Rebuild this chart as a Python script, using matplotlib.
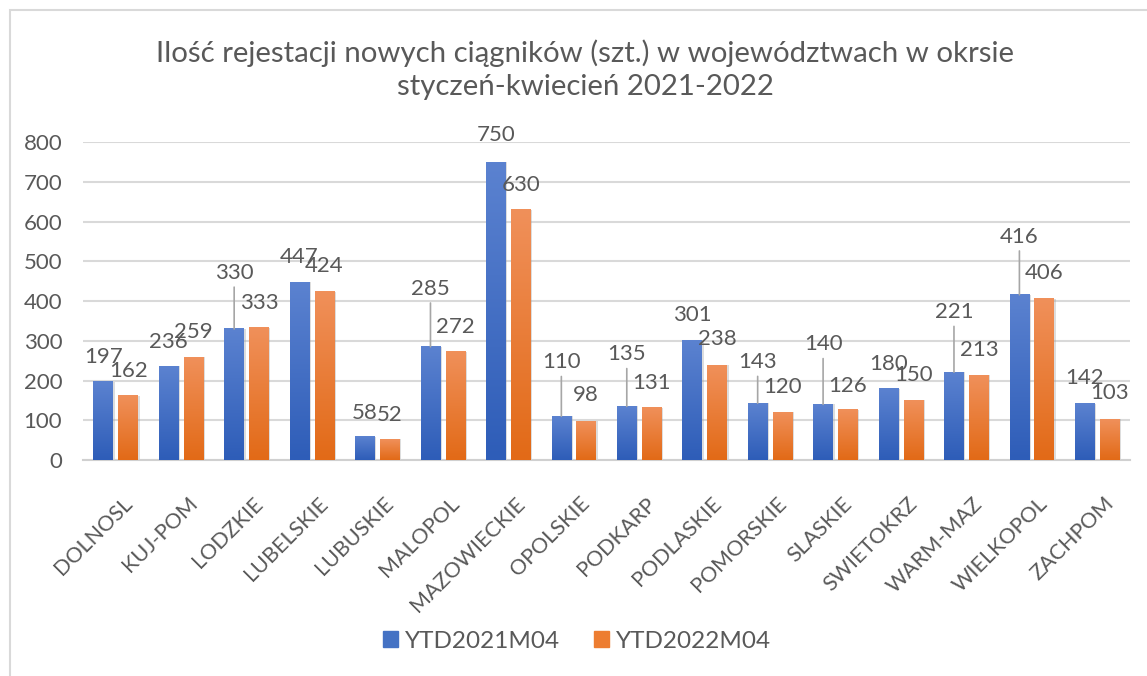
import matplotlib
matplotlib.use('Agg')
import matplotlib.pyplot as plt
import numpy as np
from matplotlib.transforms import ScaledTranslation
from matplotlib.patches import Rectangle, Patch

regions = ['DOLNOSL', 'KUJ-POM', 'LODZKIE', 'LUBELSKIE', 'LUBUSKIE', 'MALOPOL', 'MAZOWIECKIE', 'OPOLSKIE',
           'PODKARP', 'PODLASKIE', 'POMORSKIE', 'SLASKIE', 'SWIETOKRZ', 'WARM-MAZ', 'WIELKOPOL', 'ZACHPOM']
ytd2021 = [197, 236, 330, 447, 58, 285, 750, 110, 135, 301, 143, 140, 180, 221, 416, 142]
ytd2022 = [162, 259, 333, 424, 52, 272, 630, 98, 131, 238, 120, 126, 150, 213, 406, 103]
series_names = ['YTD2021M04', 'YTD2022M04']
title = 'Ilość rejestacji nowych ciągników (szt.) w województwach w okrsie\nstyczeń-kwiecień 2021-2022'

# label lift above bar top (pixels); the big ones were dragged up in excel and get leader lines
lift_2021 = [25, 24, 56, 25, 24, 58, 27, 54, 52, 25, 41, 60, 25, 60, 58, 26]
lift_2022 = [25, 25, 25, 26, 24, 25, 25, 26, 25, 26, 25, 24, 25, 25, 26, 26]

plt.rcParams['font.family'] = ['Lato', 'DejaVu Sans']
grey = '#595959'

fig = plt.figure(figsize=(11.47, 6.76), dpi=100)
ax = fig.add_axes([83 / 1147, 1 - 460 / 676, (1130 - 83) / 1147, (460 - 142.3) / 676])

# chart area border (only top/left are visible in the crop)
fig.patches.append(Rectangle((10 / 1147, -0.1), 1.2, 1 - 10 / 676 + 0.1, transform=fig.transFigure,
                             fill=False, edgecolor='#D9D9D9', linewidth=1.5))

x = np.arange(len(regions))
w = 0.30
off = 0.19
blue = ('#5B82D0', '#2E5DB8')
orange = ('#F0905A', '#E26A17')

def grad_bars(xpos, vals, cols, lifts):
    bars = ax.bar(xpos, vals, width=w, color=cols[1], zorder=2)
    # soft shadow
    ax.bar(xpos + 0.025, vals, width=w, color='#9E9E9E', alpha=0.35, zorder=1.5)
    grad = np.linspace(0, 1, 100).reshape(-1, 1)
    cmap = matplotlib.colors.LinearSegmentedColormap.from_list('g', [cols[1], cols[0]])
    for b in bars:
        ax.imshow(grad, extent=[b.get_x(), b.get_x() + b.get_width(), 0, b.get_height()],
                  origin='lower', cmap=cmap, aspect='auto', zorder=3)
    for xi, v, lift in zip(xpos, vals, lifts):
        kw = {}
        if lift > 35:
            kw['arrowprops'] = dict(arrowstyle='-', color='#A6A6A6', lw=1.2, shrinkA=1, shrinkB=0)
        ax.annotate(str(v), xy=(xi, v), xytext=(0, lift), textcoords='offset pixels',
                    ha='center', va='center', fontsize=16, color=grey, zorder=5, **kw)

grad_bars(x - off, ytd2021, blue, lift_2021)
grad_bars(x + off, ytd2022, orange, lift_2022)

ax.set_xlim(-0.5, len(regions) - 0.5)
ax.set_ylim(0, 800)
ax.set_yticks(np.arange(0, 801, 100))
ax.yaxis.grid(True, color='#D9D9D9', linewidth=1.5, zorder=0)
ax.set_axisbelow(True)
for s in ['top', 'right', 'left']:
    ax.spines[s].set_visible(False)
ax.spines['bottom'].set_color('#D0D0D0')
ax.spines['bottom'].set_linewidth(1.5)
ax.tick_params(axis='both', length=0, colors=grey)
ax.tick_params(axis='y', pad=15, labelsize=16)
ax.set_xticks(x)
ax.set_xticklabels(regions, rotation=45, ha='right', va='top', rotation_mode='anchor')
ax.tick_params(axis='x', pad=24, labelsize=15.5)
for lab in ax.get_xticklabels():
    lab.set_transform(lab.get_transform() + ScaledTranslation(0.06, 0, fig.dpi_scale_trans))

fig.text(585 / 1147, 1 - 70 / 676, title, ha='center', va='center', fontsize=21.2, color=grey,
         linespacing=1.35)

handles = [Patch(color='#4472C4'), Patch(color='#ED7D31')]
fig.legend(handles, series_names, loc='center', bbox_to_anchor=(577 / 1147, 1 - 641 / 676), ncol=2,
           frameon=False, fontsize=17.5, handlelength=0.62, handleheight=0.62, handletextpad=0.3,
           columnspacing=1.4, labelcolor=grey)

fig.savefig('out.png', dpi=100)
